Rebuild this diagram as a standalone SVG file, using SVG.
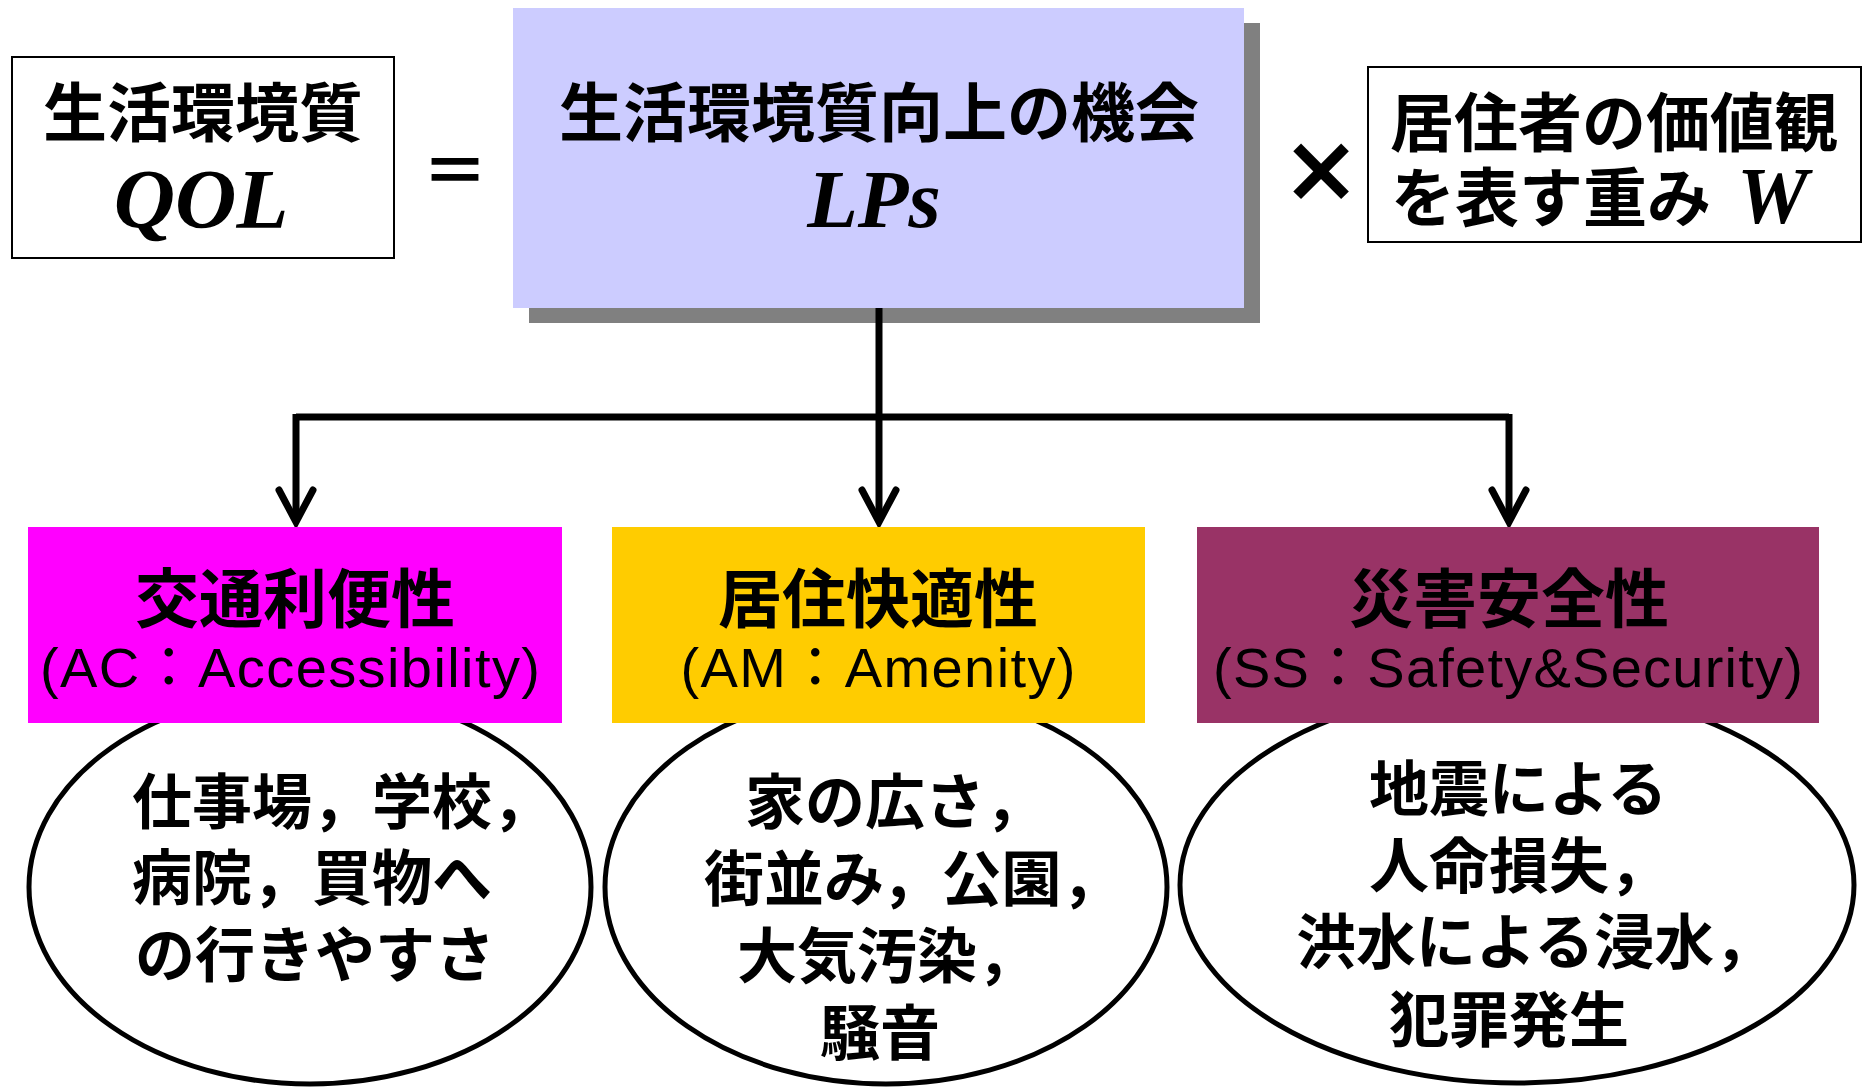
<svg xmlns="http://www.w3.org/2000/svg" width="1863" height="1088" viewBox="0 0 1863 1088">
<style>
.jp{font-family:"Noto Sans CJK JP","Noto Sans CJK SC",sans-serif;font-weight:700;fill:#000}
.t64{font-size:64px}
.t60{font-size:60px}
.lat{font-family:"Liberation Sans","Noto Sans CJK JP",sans-serif;font-size:56px;fill:#000}
.var{font-family:"Liberation Serif","Times New Roman",serif;font-style:italic;font-weight:bold;fill:#000}
.frame{fill:#fff;stroke:#000;stroke-width:2}
.ell{fill:#fff;stroke:#000;stroke-width:5}
.conn{fill:none;stroke:#000;stroke-width:7}
</style>
<defs>
<marker id="arr" markerUnits="userSpaceOnUse" orient="auto" overflow="visible" markerWidth="10" markerHeight="10" refX="0" refY="0">
<path d="M-32,-17 L0,0 L-32,17" fill="none" stroke="#000" stroke-width="7" stroke-linecap="round" stroke-linejoin="miter"/>
</marker>
</defs>
<rect width="1863" height="1088" fill="#fff"/>

<g id="ellipse-ac"><ellipse class="ell" cx="310" cy="887" rx="281" ry="197"/>
<text class="jp t60" x="132" y="824">仕事場，学校，</text>
<text class="jp t60" x="132" y="900">病院，買物へ</text>
<text class="jp t60" x="135" y="977">の行きやすさ</text></g>

<g id="ellipse-am"><ellipse class="ell" cx="886" cy="887" rx="281" ry="197"/>
<text class="jp t60" x="745" y="824">家の広さ，</text>
<text class="jp t60" x="704" y="901">街並み，公園，</text>
<text class="jp t60" x="737" y="978">大気汚染，</text>
<text class="jp t60" x="820" y="1055">騒音</text></g>

<g id="ellipse-ss"><ellipse class="ell" cx="1517" cy="885" rx="337" ry="198"/>
<text class="jp t60" x="1369" y="811">地震による</text>
<text class="jp t60" x="1369" y="888">人命損失，</text>
<text class="jp t60" x="1296" y="964">洪水による浸水，</text>
<text class="jp t60" x="1389" y="1042">犯罪発生</text></g>

<g id="qol">
<rect class="frame" x="12" y="57" width="382" height="201"/>
<text class="jp t64" x="203" y="136" text-anchor="middle">生活環境質</text>
<text class="var" x="201" y="228" font-size="85" text-anchor="middle">QOL</text>
</g>

<g id="equals"><text class="jp" x="455" y="195" font-size="66" text-anchor="middle">＝</text></g>

<g id="lps">
<rect x="529" y="23" width="731" height="300" fill="#808080"/>
<rect x="513" y="8" width="731" height="300" fill="#CCCCFF"/>
<text class="jp t64" x="879" y="136" text-anchor="middle">生活環境質向上の機会</text>
<text class="var" x="874" y="227" font-size="83" text-anchor="middle">LPs</text>
</g>

<g id="times"><text class="jp" x="1321" y="201" font-size="78" stroke="#000" stroke-width="3" text-anchor="middle">×</text></g>

<g id="weight">
<rect class="frame" x="1368" y="67" width="493" height="175"/>
<text class="jp t64" x="1390" y="146">居住者の価値観</text>
<text class="jp t64" x="1391" y="221">を表す重み</text>
<text class="var" x="1737" y="223" font-size="80">W</text>
</g>

<g id="connectors">
<path class="conn" d="M879,308 V417"/>
<path class="conn" d="M296,417 H1509"/>
<path class="conn" d="M296,414 V522" marker-end="url(#arr)"/>
<path class="conn" d="M879,414 V522" marker-end="url(#arr)"/>
<path class="conn" d="M1509,414 V522" marker-end="url(#arr)"/>
</g>

<g id="ac">
<rect x="28" y="527" width="534" height="196" fill="#FF00FF"/>
<text class="jp t64" x="295" y="622" text-anchor="middle">交通利便性</text>
<text class="lat" x="290" y="687" text-anchor="middle" textLength="500" lengthAdjust="spacing">(AC：Accessibility)</text>
</g>

<g id="am">
<rect x="612" y="527" width="533" height="196" fill="#FFCC00"/>
<text class="jp t64" x="878" y="622" text-anchor="middle">居住快適性</text>
<text class="lat" x="878" y="687" text-anchor="middle" textLength="395" lengthAdjust="spacing">(AM：Amenity)</text>
</g>

<g id="ss">
<rect x="1197" y="527" width="622" height="196" fill="#993366"/>
<text class="jp t64" x="1509" y="622" text-anchor="middle">災害安全性</text>
<text class="lat" x="1508" y="687" text-anchor="middle" textLength="590" lengthAdjust="spacing">(SS：Safety&amp;Security)</text>
</g>
</svg>
